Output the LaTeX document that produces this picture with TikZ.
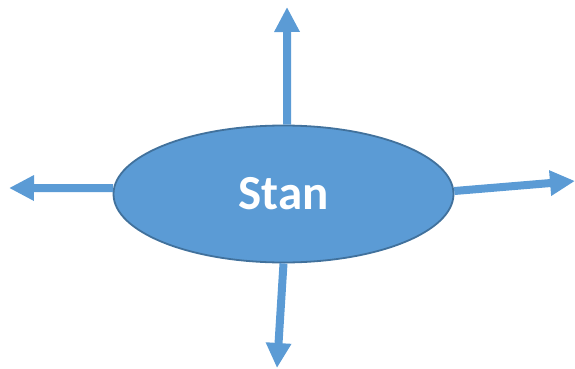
\documentclass[tikz,border=0pt]{standalone}
\usepackage{fontspec}
\newfontfamily\calfont{Carlito}
\usetikzlibrary{shapes.geometric,arrows.meta}
\definecolor{blfill}{HTML}{5B9BD5}
\definecolor{blline}{HTML}{41719C}
\tikzset{
  bubble/.style={ellipse, draw=blline, fill=blfill, line width=1.8pt, inner sep=0pt,
    minimum width=340pt, minimum height=137pt, text=white, font=\calfont\bfseries\fontsize{49}{52}\selectfont},
  ray/.style={draw=blfill, line width=8pt, -{Triangle[length=25pt,width=24pt]}}
}
\begin{document}
\begin{tikzpicture}[x=1pt,y=-1pt]
\useasboundingbox (0,0) rectangle (575,369);
\node[bubble] (s) at (283.5,194) {Stan};
\coordinate (tu) at (287,7);
\coordinate (tl) at (9,188);
\coordinate (tr) at (575,181);
\coordinate (td) at (277,368);
\draw[ray] (s.87) -- (tu);
\draw[ray] (s.178) -- (tl);
\draw[ray] (s.1) -- (tr);
\draw[ray] (s.270) -- (td);
\end{tikzpicture}
\end{document}
